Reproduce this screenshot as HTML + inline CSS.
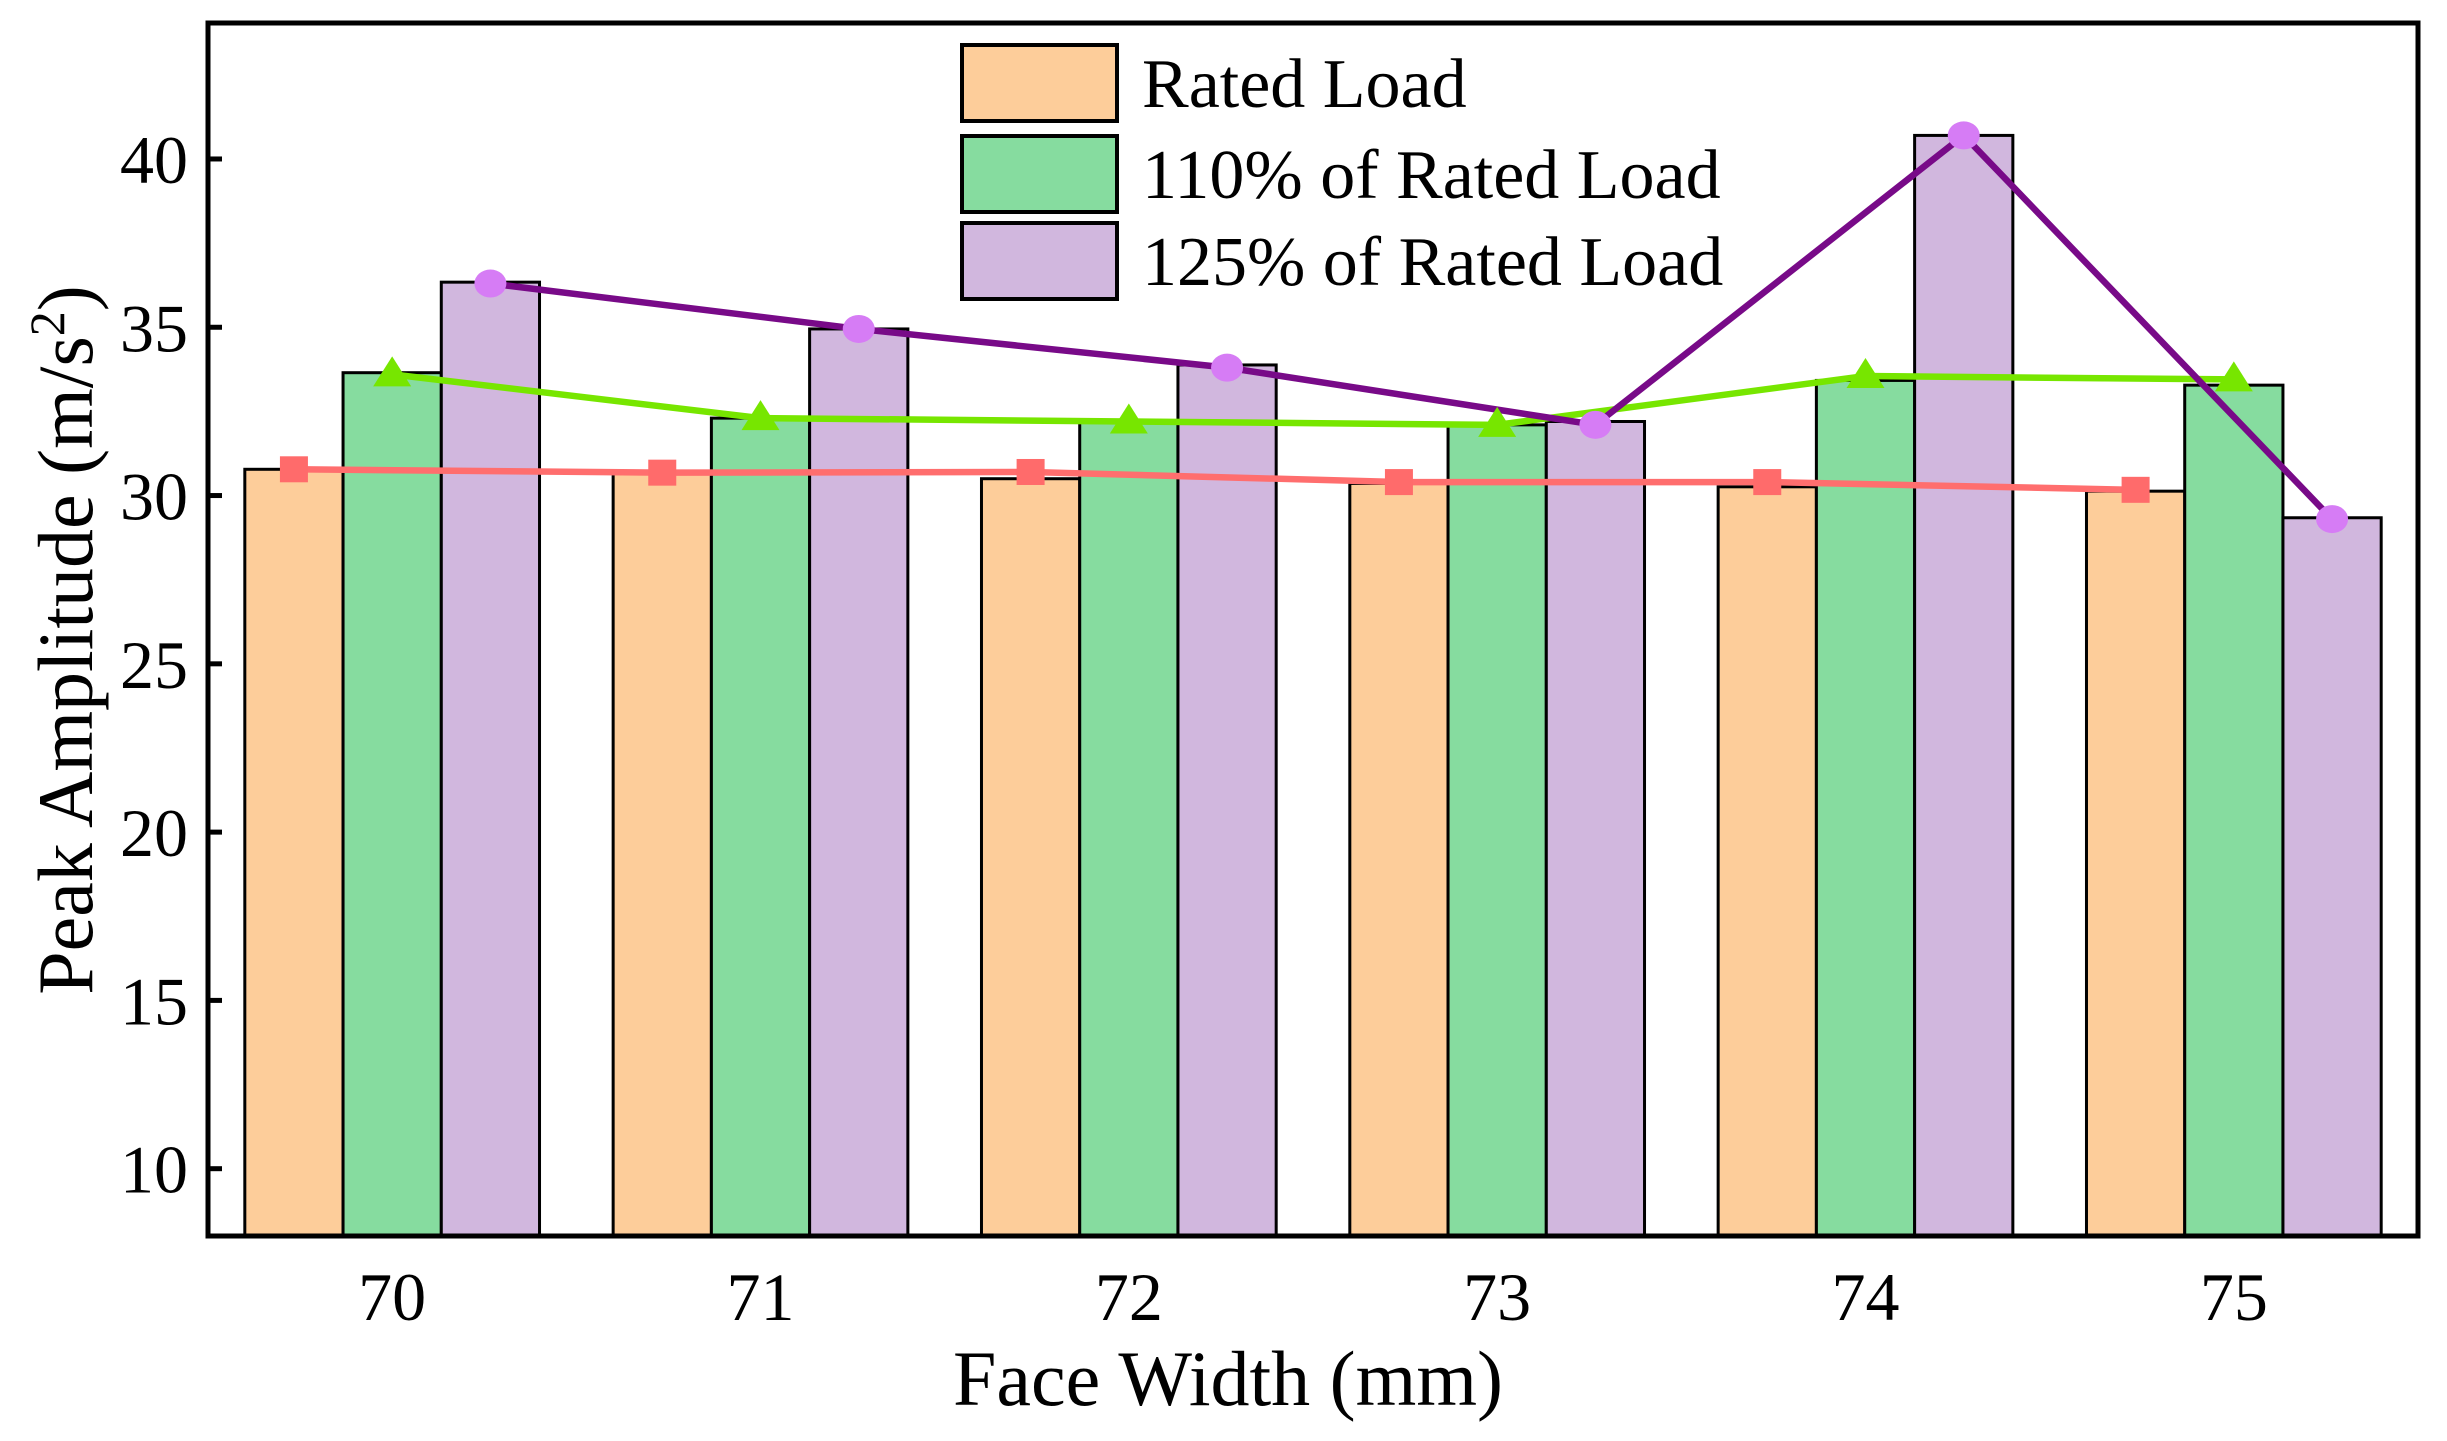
<!DOCTYPE html>
<html><head><meta charset="utf-8"><style>
html,body{margin:0;padding:0;background:#fff;}
svg{display:block;font-family:"Liberation Serif","Times New Roman",serif;}
</style></head><body>
<svg id="chart" width="2447" height="1441" viewBox="0 0 2447 1441" xmlns="http://www.w3.org/2000/svg"></svg>
<script>
const categories = [70, 71, 72, 73, 74, 75];
const seriesNames = ["Rated Load", "110% of  Rated Load", "125% of  Rated Load"];
const barRated = [30.78, 30.68, 30.5, 30.36, 30.26, 30.13];
const bar110 = [33.65, 32.3, 32.2, 32.1, 33.42, 33.28];
const bar125 = [36.34, 34.95, 33.88, 32.2, 40.7, 29.34];
const lineRated = [30.78, 30.68, 30.7, 30.4, 30.4, 30.17];
const line110 = [33.6, 32.3, 32.2, 32.1, 33.55, 33.45];
const line125 = [36.3, 34.95, 33.8, 32.1, 40.7, 29.3];
const yTicks = [10, 15, 20, 25, 30, 35, 40];

const NS = "http://www.w3.org/2000/svg";
const svg = document.getElementById("chart");
const L = 208, R = 2418, T = 23, B = 1236;
const xMin = 69.5, xMax = 75.5, yMin = 8, yMax = 44.04;
const xs = v => L + (v - xMin) / (xMax - xMin) * (R - L);
const ys = v => B - (v - yMin) / (yMax - yMin) * (B - T);
function mk(tag, attrs, parent) {
  const e = document.createElementNS(NS, tag);
  for (const k in attrs) e.setAttribute(k, attrs[k]);
  (parent || svg).appendChild(e);
  return e;
}
const fills = ["#fdcd9a", "#86dc9f", "#d1b7de"];
const barSets = [barRated, bar110, bar125];
const bw = 0.2667;
const barsG = mk("g", {});


barSets.forEach((arr, s) => {
  arr.forEach((v, i) => {
    const c = categories[i] + (s - 1) * bw;
    const x0 = xs(c - bw / 2), x1 = xs(c + bw / 2);
    const r = mk("rect", {x: x0, y: ys(v), width: x1 - x0, height: B - ys(v), fill: fills[s], stroke: "#000", "stroke-width": 3}, barsG);
    
    
  });
});
const lineSets = [lineRated, line110, line125];
const lineCols = ["#ff6e6e", "#77e600", "#780a88"];
const markCols = ["#ff6b6b", "#77e600", "#d67cf5"];
lineSets.forEach((arr, s) => {
  const pts = arr.map((v, i) => xs(categories[i] + (s - 1) * bw) + "," + ys(v)).join(" ");
  const pl = mk("polyline", {points: pts, fill: "none", stroke: lineCols[s], "stroke-width": 6.5, "stroke-linecap": "round"});
  
  
});
lineSets.forEach((arr, s) => {
  arr.forEach((v, i) => {
    const cx = xs(categories[i] + (s - 1) * bw), cy = ys(v);
    let m;
    if (s === 0) m = mk("rect", {x: cx - 14, y: cy - 13, width: 28, height: 26, fill: markCols[0]});
    else if (s === 1) m = mk("polygon", {points: `${cx},${cy - 18} ${cx - 19},${cy + 12} ${cx + 19},${cy + 12}`, fill: markCols[1]});
    else m = mk("ellipse", {cx: cx, cy: cy, rx: 16, ry: 14, fill: markCols[2]});
    
    
  });
});
const fr = mk("rect", {x: L, y: T, width: R - L, height: B - T, fill: "none", stroke: "#000", "stroke-width": 5});


yTicks.forEach(t => {
  const y = ys(t);
  const tk = mk("line", {x1: L, x2: L + 14, y1: y, y2: y, stroke: "#000", "stroke-width": 5});
  
  
  const tx = mk("text", {x: 188, y: y + 24, "text-anchor": "end", "font-size": 68});
  tx.textContent = t;
  
  
});
categories.forEach(c => {
  const tx = mk("text", {x: xs(c), y: 1320, "text-anchor": "middle", "font-size": 68});
  tx.textContent = c;
  
  
});
const xt = mk("text", {x: 1228, y: 1405, "text-anchor": "middle", "font-size": 78});
xt.textContent = "Face Width (mm)";


const yt = mk("text", {x: 0, y: 0, "text-anchor": "middle", "font-size": 78, transform: "translate(92,640) rotate(-90)"});
yt.innerHTML = 'Peak Amplitude (m/s<tspan dy="-28" font-size="50">2</tspan><tspan dy="28">)</tspan>';


const legY = [45, 136, 223];
seriesNames.forEach((n, s) => {
  const r = mk("rect", {x: 962, y: legY[s], width: 155, height: 76, fill: fills[s], stroke: "#000", "stroke-width": 4});
  
  
  const t = mk("text", {x: 1142, y: legY[s] + 62, "font-size": 70, "xml:space": "preserve"});
  t.textContent = n;
  
  
});
</script>
</body></html>
